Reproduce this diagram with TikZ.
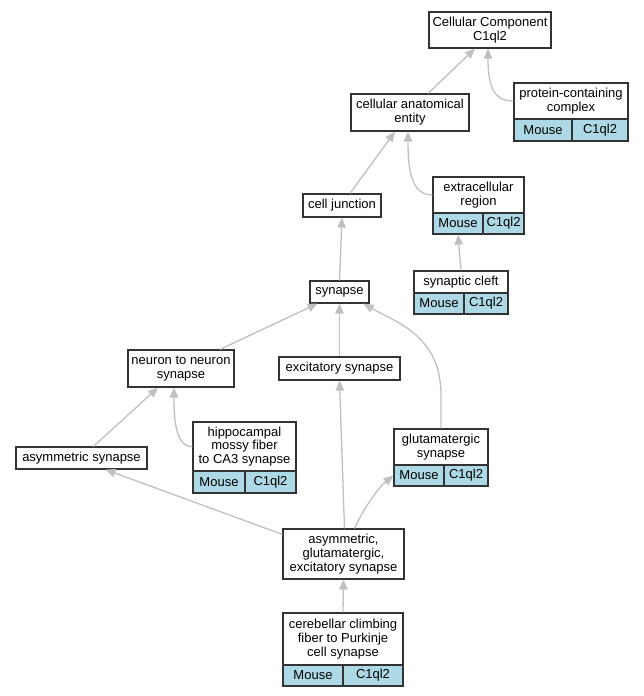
\documentclass[tikz,border=0pt]{standalone}
\usepackage{fontspec}
\setmainfont{Liberation Sans}
\usetikzlibrary{arrows.meta,calc}
\definecolor{edgegray}{HTML}{C0C0C0}
\definecolor{cellblue}{HTML}{ADD8E6}
\tikzset{
  box/.style={draw=black!80, line width=1.2pt, fill=white, inner sep=0pt, align=center,
    font=\fontsize{13}{13.8}\selectfont},
  cell/.style={box, fill=cellblue},
  edge/.style={draw=edgegray, line width=1.3pt, -{Triangle[length=10pt,width=8.5pt]}}
}
\begin{document}
\begin{tikzpicture}[x=1pt,y=-1pt]
\useasboundingbox (0,0) rectangle (643,696);
% nodes
\node[box, minimum width=122pt, minimum height=36pt] (cc) at (490,30) {Cellular Component\\C1ql2};
\node[box, minimum width=114pt, minimum height=36pt] (pcc) at (571,101) {protein-containing\\complex};
\node[cell, minimum width=58pt, minimum height=22pt] (pccl) at (543,130) {Mouse};
\node[cell, minimum width=56pt, minimum height=22pt] (pccr) at (600,130) {C1ql2};
\node[box, minimum width=118pt, minimum height=37pt] (cae) at (410,112.5) {cellular anatomical\\entity};
\node[box, minimum width=78pt, minimum height=23pt] (cj) at (342,205.5) {cell junction};
\node[box, minimum width=91pt, minimum height=36pt] (er) at (478.5,195) {extracellular\\region};
\node[cell, minimum width=50pt, minimum height=21pt] (erl) at (458,223.5) {Mouse};
\node[cell, minimum width=41pt, minimum height=21pt] (err) at (503.5,223.5) {C1ql2};
\node[box, minimum width=94pt, minimum height=22pt] (sc) at (461,282) {synaptic cleft};
\node[cell, minimum width=50pt, minimum height=21pt] (scl) at (439,303.5) {Mouse};
\node[cell, minimum width=44pt, minimum height=21pt] (scr) at (486,303.5) {C1ql2};
\node[box, minimum width=59pt, minimum height=22pt] (syn) at (339.5,292) {synapse};
\node[box, minimum width=106pt, minimum height=37pt] (nn) at (181,368.5) {neuron to neuron\\synapse};
\node[box, minimum width=131pt, minimum height=22pt] (asym) at (81.5,458) {asymmetric synapse};
\node[box, minimum width=103pt, minimum height=49pt] (hip) at (244.5,446.5) {hippocampal\\mossy fiber\\to CA3 synapse};
\node[cell, minimum width=52pt, minimum height=22pt] (hipl) at (219,482) {Mouse};
\node[cell, minimum width=51pt, minimum height=22pt] (hipr) at (270.5,482) {C1ql2};
\node[box, minimum width=121pt, minimum height=23pt] (exc) at (339.5,368.5) {excitatory synapse};
\node[box, minimum width=94pt, minimum height=36pt] (glu) at (441,447) {glutamatergic\\synapse};
\node[cell, minimum width=50pt, minimum height=21pt] (glul) at (419,475.5) {Mouse};
\node[cell, minimum width=44pt, minimum height=21pt] (glur) at (466,475.5) {C1ql2};
\node[box, minimum width=121pt, minimum height=50pt] (age) at (343.5,554) {asymmetric,\\glutamatergic,\\excitatory synapse};
\node[box, minimum width=120pt, minimum height=52pt] (cer) at (343,639) {cerebellar climbing\\fiber to Purkinje\\cell synapse};
\node[cell, minimum width=60pt, minimum height=21pt] (cerl) at (313,675.5) {Mouse};
\node[cell, minimum width=60pt, minimum height=21pt] (cerr) at (373,675.5) {C1ql2};
% edges
\draw[edge] ($(cae.north)+(18,0)$) -- ($(cc.south)+(-15,0)$);
\draw[edge] (pcc.west) .. controls (492,101) and ($(cc.south)+(-2,35)$) .. ($(cc.south)+(-2,0)$);
\draw[edge] ($(cj.north)+(8,0)$) -- ($(cae.south)+(-15,0)$);
\draw[edge] (er.west) .. controls (410,195) and ($(cae.south)+(-2,35)$) .. ($(cae.south)+(-2,0)$);
\draw[edge] (sc.north) -- (erl.south);
\draw[edge] (syn.north) -- (cj.south);
\draw[edge] ($(nn.north)+(39,0)$) -- ($(syn.south)+(-22,0)$);
\draw[edge] (exc.north) -- (syn.south);
\draw[edge] (glu.north) -- (441,395) .. controls (441,335) and (395,322) .. ($(syn.south east)+(-6,0)$);
\draw[edge] ($(asym.north)+(12,0)$) -- ($(nn.south)+(-23,0)$);
\draw[edge] (hip.west) .. controls (175,447) and ($(nn.south)+(-7,30)$) .. ($(nn.south)+(-7,0)$);
\draw[edge] ($(age.north)+(1,0)$) -- (exc.south);
\draw[edge] ($(age.north)+(11,0)$) .. controls (364,508) and (378,488) .. (glul.west);
\draw[edge] ($(age.north west)+(0,6)$) -- ($(asym.south)+(24,0)$);
\draw[edge] (cer.north) -- (age.south);
\end{tikzpicture}
\end{document}
